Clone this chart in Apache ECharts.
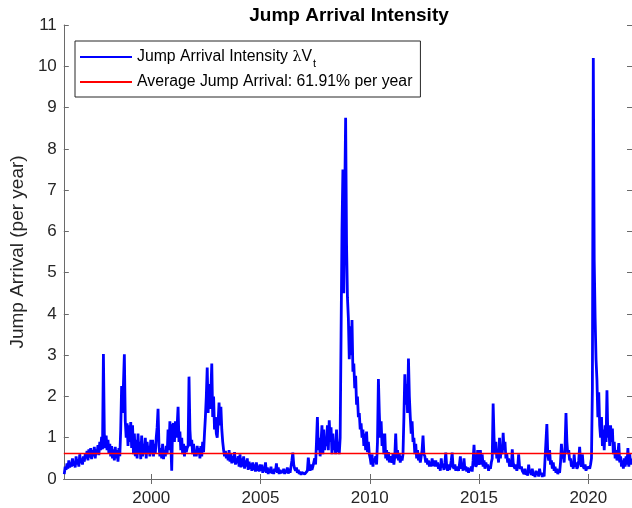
<!DOCTYPE html>
<html>
<head>
<meta charset="utf-8">
<script src="https://cdn.jsdelivr.net/npm/echarts@6/dist/echarts.min.js"></script>
<style>
html,body{margin:0;padding:0;background:#fff;}
#chart{width:632px;height:508px;}
</style>
</head>
<body>
<div id="chart"></div>
<script>
// semi-monthly readings of the jump arrival intensity, one list per year
var jump1996=[0.12,0.3,0.22,0.38,0.25,0.45,0.28,0.4,0.3,0.5,0.32,0.42,0.28,0.55,0.35,0.48,0.3,0.6,0.38,0.5,0.35,0.55,0.42,0.6];
var jump1997=[0.5,0.68,0.45,0.72,0.52,0.75,0.48,0.7,0.55,0.78,0.5,0.72,0.6,0.82,0.58,0.9,0.7,1.02,0.72,3.03,1.1,0.75,1.05,0.7];
var jump1998=[0.95,0.62,0.85,0.55,0.8,0.5,0.72,0.45,0.78,0.5,0.7,0.42,0.75,0.55,1.2,2.25,1.6,2.3,3.02,1.4,1.0,1.35,0.8,1.3];
var jump1999=[0.9,1.38,0.75,1.3,0.6,1.1,0.55,0.95,0.5,1.1,0.6,0.9,0.48,1.05,0.55,0.85,0.6,1.0,0.5,0.9,0.62,0.8,0.55,0.95];
var jump2000=[0.6,0.95,0.55,0.85,0.62,1.0,1.25,1.7,0.8,0.55,0.75,0.5,0.85,0.48,0.7,0.55,0.8,0.6,1.2,0.7,1.4,0.9,0.2,1.3];
var jump2001=[1.35,0.9,1.4,1.0,1.3,1.75,0.9,1.15,0.7,1.0,0.6,0.85,0.55,0.8,0.65,0.75,0.8,2.48,1.2,0.8,0.95,0.6,0.85,0.55];
var jump2002=[0.7,0.55,0.8,0.6,0.75,0.5,0.8,0.55,0.9,0.65,1.1,1.5,2.0,2.7,1.6,2.3,1.7,2.1,2.8,1.5,2.0,1.2,1.5,1.1];
var jump2003=[1.0,1.4,1.85,1.3,1.75,1.2,0.9,0.7,0.55,0.68,0.5,0.62,0.45,0.7,0.42,0.6,0.38,0.55,0.4,0.65,0.35,0.5,0.38,0.55];
var jump2004=[0.3,0.6,0.28,0.5,0.3,0.55,0.25,0.45,0.3,0.5,0.22,0.42,0.25,0.38,0.2,0.4,0.22,0.35,0.18,0.4,0.2,0.32,0.18,0.35];
var jump2005=[0.2,0.35,0.15,0.3,0.18,0.4,0.15,0.28,0.12,0.25,0.15,0.3,0.13,0.22,0.12,0.25,0.18,0.38,0.15,0.28,0.12,0.22,0.14,0.2];
var jump2006=[0.15,0.25,0.12,0.22,0.15,0.28,0.13,0.25,0.15,0.3,0.45,0.64,0.35,0.25,0.2,0.28,0.15,0.22,0.12,0.18,0.1,0.16,0.12,0.15];
var jump2007=[0.12,0.15,0.1,0.2,0.52,0.3,0.2,0.35,0.22,0.3,0.4,0.5,0.35,0.9,1.5,0.7,1.0,0.55,0.9,1.3,0.6,1.2,0.7,1.0];
var jump2008=[0.8,1.3,0.7,1.42,0.9,1.25,0.6,1.1,0.7,0.9,0.6,1.2,0.65,0.9,0.6,1.0,3.5,6.0,7.5,4.5,6.8,8.75,5.7,4.4];
var jump2009=[3.9,2.9,3.7,3.0,3.85,2.6,2.8,2.2,2.5,1.8,2.0,1.5,1.6,1.2,1.35,1.0,1.2,0.8,1.1,0.7,1.15,0.65,0.9,0.6];
var jump2010=[0.5,0.35,0.6,0.3,0.5,0.4,0.55,0.35,0.9,2.42,1.6,1.0,1.4,0.8,1.1,0.6,1.1,0.5,0.7,0.45,0.65,0.4,0.55,0.45];
var jump2011=[0.4,0.6,0.35,0.55,1.1,0.5,0.7,0.45,0.6,0.4,0.55,0.45,0.6,1.5,2.54,1.8,2.3,1.6,2.92,2.0,1.5,1.1,1.4,0.9];
var jump2012=[1.0,0.6,0.85,0.5,0.7,0.45,0.6,0.4,0.55,0.7,1.05,0.6,0.55,0.4,0.5,0.35,0.45,0.3,0.42,0.3,0.5,0.32,0.45,0.3];
var jump2013=[0.45,0.3,0.4,0.25,0.35,0.2,0.5,0.28,0.35,0.22,0.4,0.64,0.3,0.2,0.35,0.22,0.3,0.45,0.64,0.3,0.25,0.35,0.2,0.3];
var jump2014=[0.3,0.2,0.35,0.55,0.25,0.3,0.2,0.5,0.22,0.3,0.18,0.28,0.15,0.25,0.2,0.3,0.18,0.45,0.83,0.4,0.3,0.35,0.7,0.35];
var jump2015=[0.4,0.7,0.35,0.6,0.3,0.45,0.25,0.4,0.3,0.35,0.2,0.3,0.25,0.4,0.5,1.83,1.0,0.6,0.9,0.5,0.6,0.4,1.0,0.5];
var jump2016=[0.8,0.6,1.12,0.7,0.9,0.5,0.6,0.4,0.5,0.3,0.4,0.3,0.72,0.4,0.3,0.25,0.35,0.2,0.3,0.6,0.3,0.25,0.3,0.2];
var jump2017=[0.2,0.12,0.25,0.1,0.2,0.08,0.35,0.15,0.2,0.1,0.25,0.08,0.15,0.05,0.2,0.1,0.18,0.06,0.25,0.1,0.15,0.05,0.12,0.06];
var jump2018=[0.08,0.1,1.33,0.6,0.45,0.7,0.35,0.45,0.25,0.4,0.2,0.3,0.15,0.25,0.12,0.2,0.15,0.4,0.85,0.5,0.6,0.4,0.8,1.6];
var jump2019=[0.9,0.6,0.7,0.45,0.5,0.3,0.35,0.25,0.6,0.3,0.4,0.25,0.3,0.45,0.78,0.4,0.3,0.6,0.3,0.25,0.35,0.2,0.3,0.25];
var jump2020=[0.3,0.25,0.35,0.5,2.2,10.2,5.3,3.9,2.9,2.4,1.5,2.1,1.3,1.0,1.5,0.8,1.2,0.7,1.3,0.9,2.15,1.0,1.3,0.8];
var jump2021=[1.3,0.9,1.22,0.6,0.9,0.5,0.7,0.45,0.6,0.87,0.4,0.55,0.3,0.45,0.25,0.5,0.3,0.55,0.35,0.75,0.3,0.6,0.35,0.5];

var avgJump=0.6191;
var xTicks=[2000,2005,2010,2015,2020];
var xMin=1996, xMax=2022;

var byYear=[jump1996,jump1997,jump1998,jump1999,jump2000,jump2001,jump2002,jump2003,jump2004,
  jump2005,jump2006,jump2007,jump2008,jump2009,jump2010,jump2011,jump2012,jump2013,jump2014,
  jump2015,jump2016,jump2017,jump2018,jump2019,jump2020,jump2021];

var lineData=[];
for(var y=0;y<byYear.length;y++){
  for(var i=0;i<byYear[y].length;i++){
    lineData.push([xMin+y+(i+0.5)/24, byYear[y][i]]);
  }
}

var name1='Jump Arrival Intensity';
var name2='Average Jump Arrival: 61.91% per year';
var font='"Liberation Sans", Arial, Helvetica, sans-serif';
var ink='#262626';
var axisCol='#6a6a6a';

var chart=echarts.init(document.getElementById('chart'));
var option={
  animation:false,
  textStyle:{fontFamily:font},
  title:{
    text:'Jump Arrival Intensity',
    left:344, top:1, textAlign:'center',
    textStyle:{fontFamily:font,fontWeight:'bold',fontSize:19,color:'#000'}
  },
  legend:{
    orient:'vertical', left:75, top:41,
    padding:[8,8,7,5], itemGap:5,
    itemWidth:52, itemHeight:2, icon:'rect',
    borderColor:ink, borderWidth:1, backgroundColor:'#fff',
    data:[name1,name2],
    formatter:function(n){
      if(n===name1) return '{a|Jump Arrival Intensity }{l|λ}{a|V}{s|t}';
      return '{a|'+n+'}';
    },
    textStyle:{
      fontFamily:font, fontSize:15.8, color:'#000',
      rich:{
        a:{fontFamily:font,fontSize:15.8,color:'#000'},
        l:{fontFamily:'"DejaVu Serif", serif',fontSize:14.5,color:'#000'},
        s:{fontFamily:font,fontSize:11,color:'#000',verticalAlign:'top',padding:[13,0,0,1]}
      }
    }
  },
  grid:{left:60, top:25, width:574, height:454, containLabel:false},
  xAxis:[{
    type:'value', min:xMin, max:xMax,
    axisLine:{lineStyle:{color:axisCol,width:1}},
    axisTick:{inside:true,length:5,customValues:xTicks,lineStyle:{color:axisCol}},
    axisLabel:{customValues:xTicks,fontSize:17,color:ink,margin:11,fontFamily:font,
      formatter:function(v){return String(v);}},
    splitLine:{show:false}
  },{
    type:'value', min:xMin, max:xMax, position:'top',
    axisLine:{lineStyle:{color:axisCol,width:1}},
    axisTick:{inside:true,length:5,customValues:xTicks,lineStyle:{color:axisCol}},
    axisLabel:{show:false},
    splitLine:{show:false}
  }],
  yAxis:[{
    type:'value', min:0, max:11, interval:1,
    name:'Jump Arrival (per year)', nameLocation:'middle', nameGap:30,
    nameTextStyle:{fontFamily:font,fontSize:19,color:ink},
    axisLine:{show:true,lineStyle:{color:axisCol,width:1}},
    axisTick:{show:true,inside:true,length:5,lineStyle:{color:axisCol}},
    axisLabel:{fontSize:17,color:ink,margin:7,fontFamily:font},
    splitLine:{show:false}
  },{
    type:'value', min:0, max:11, interval:1, position:'right',
    axisLine:{show:true,lineStyle:{color:axisCol,width:1}},
    axisTick:{show:true,inside:true,length:5,lineStyle:{color:axisCol}},
    axisLabel:{show:false},
    splitLine:{show:false}
  }],
  series:[{
    name:name1, type:'line', xAxisIndex:0, yAxisIndex:0,
    data:lineData, showSymbol:false, symbol:'none',
    lineStyle:{color:'#0000ff',width:2.8,join:'bevel'}, itemStyle:{color:'#0000ff'},
    emphasis:{disabled:true}
  },{
    name:name2, type:'line', xAxisIndex:0, yAxisIndex:0,
    data:[[xMin,avgJump],[xMax,avgJump]], showSymbol:false, symbol:'none',
    lineStyle:{color:'#ff0000',width:1.6}, itemStyle:{color:'#ff0000'},
    emphasis:{disabled:true}
  }]
};
chart.setOption(option);
</script>
</body>
</html>
